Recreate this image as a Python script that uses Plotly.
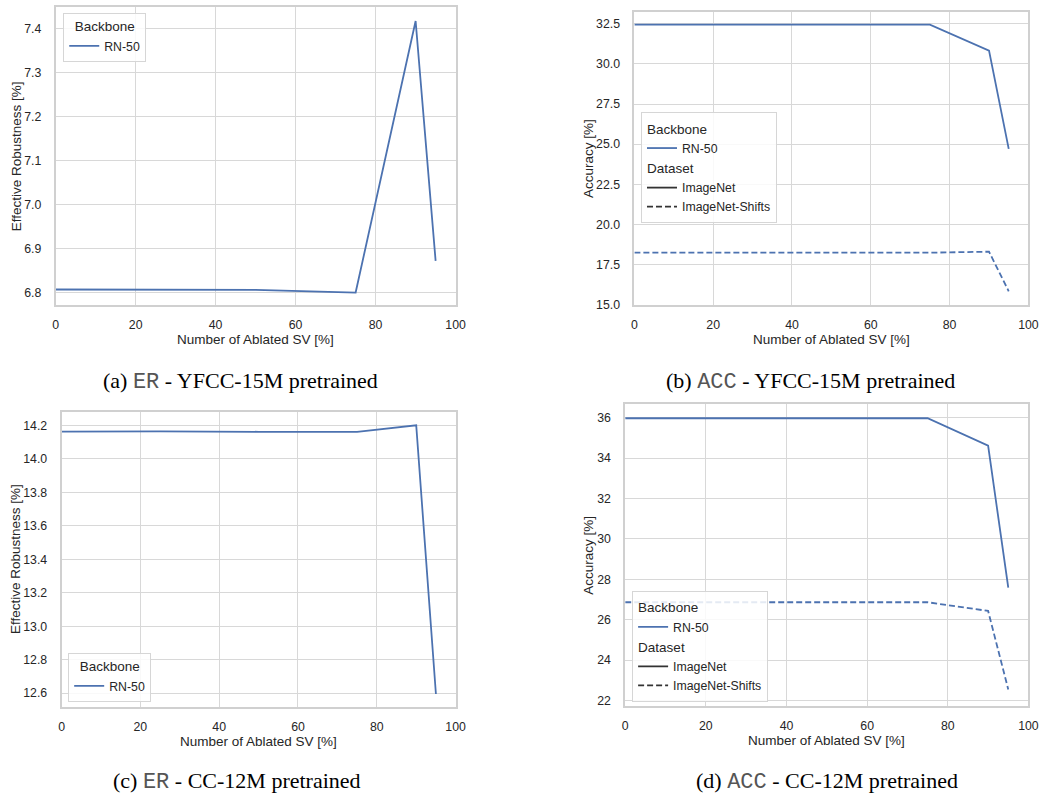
import plotly.graph_objects as go

# Ablation levels (percentage of singular values removed)
ablated_sv = [0, 25, 50, 75, 90, 95]

# YFCC-15M pretrained, RN-50 backbone
yfcc_er = [6.807, 6.807, 6.806, 6.800, 7.418, 6.872]
yfcc_acc_imagenet = [32.45, 32.45, 32.45, 32.45, 30.83, 24.71]
yfcc_acc_shifts = [18.24, 18.24, 18.24, 18.24, 18.30, 15.83]

# CC-12M pretrained, RN-50 backbone
cc_er = [14.163, 14.165, 14.162, 14.161, 14.201, 12.595]
cc_acc_imagenet = [35.97, 35.97, 35.97, 35.97, 34.61, 27.58]
cc_acc_shifts = [26.86, 26.86, 26.86, 26.86, 26.43, 22.54]

captions = [
    ("a", "ER", "YFCC-15M pretrained"),
    ("b", "ACC", "YFCC-15M pretrained"),
    ("c", "ER", "CC-12M pretrained"),
    ("d", "ACC", "CC-12M pretrained"),
]

W, H = 1049, 797
BLUE = "#4c72b0"
DARK = "#333333"
TEXT = "#262626"
GRID = "#d8d8d8"
SPINE = "#d0d0d0"
FONT = "Liberation Sans, Arial, sans-serif"


def px_x(v):
    return v / W


def px_y(v):
    return 1 - v / H


# panel boxes in pixels: left, right, top, bottom
boxes = {
    1: (53.3, 458.3, 7.0, 308.0),
    2: (639.3, 1038.3, 12.0, 308.0),
    3: (59.3, 458.3, 415.7, 713.3),
    4: (630.0, 1038.3, 407.3, 712.3),
}
yranges = {1: [6.771, 7.45], 2: [14.96, 33.24], 3: [12.517, 14.28], 4: [21.72, 36.69]}
yticks = {
    1: dict(tick0=6.8, dtick=0.1, tickformat=".1f"),
    2: dict(tick0=15.0, dtick=2.5, tickformat=".1f"),
    3: dict(tick0=12.6, dtick=0.2, tickformat=".1f"),
    4: dict(tick0=22, dtick=2, tickformat="d"),
}

fig = go.Figure()


def add_line(i, y, dash="solid"):
    fig.add_trace(go.Scatter(
        x=ablated_sv, y=y, mode="lines",
        line=dict(color=BLUE, width=1.8, dash=dash),
        xaxis=f"x{i}", yaxis=f"y{i}", showlegend=False,
    ))


add_line(1, yfcc_er)
add_line(2, yfcc_acc_imagenet)
add_line(2, yfcc_acc_shifts, "6px,3px")
add_line(3, cc_er)
add_line(4, cc_acc_imagenet)
add_line(4, cc_acc_shifts, "6px,3px")

TITLE_FONT = dict(size=13.5, color=TEXT, family=FONT)


def legend_entry(legend, name, color, dash="solid", group=None, group_title=None):
    kw = {}
    if group is not None:
        kw["legendgroup"] = group
        kw["legendgrouptitle"] = dict(text=group_title, font=TITLE_FONT)
    fig.add_trace(go.Scatter(
        x=[None], y=[None], mode="lines", name=name,
        line=dict(color=color, width=1.8, dash=dash),
        xaxis="x1", yaxis="y1", legend=legend, showlegend=True, **kw,
    ))


# simple backbone legends
legend_entry("legend", "RN-50", BLUE)
legend_entry("legend3", "RN-50", BLUE)
# backbone + dataset legends
for lg in ("legend2", "legend4"):
    legend_entry(lg, "RN-50", BLUE, group=f"bb_{lg}", group_title="Backbone")
    legend_entry(lg, "ImageNet", DARK, group=f"ds_{lg}", group_title="Dataset")
    legend_entry(lg, "ImageNet-Shifts", DARK, "6px,3px", group=f"ds_{lg}", group_title="Dataset")

layout = dict(
    width=W, height=H,
    margin=dict(l=0, r=0, t=0, b=0),
    paper_bgcolor="white", plot_bgcolor="white",
    font=dict(family=FONT, color=TEXT, size=12),
)

for i, (l, r, t, b) in boxes.items():
    layout[f"xaxis{i}"] = dict(
        domain=[px_x(l), px_x(r)], anchor=f"y{i}", range=[0, 100],
        tick0=0, dtick=20, showgrid=True, gridcolor=GRID, gridwidth=1.3,
        showline=True, linecolor=SPINE, linewidth=1.8, mirror=True,
        zeroline=False, ticks="", ticklabelstandoff=7,
        tickfont=dict(size=12.3, color=TEXT, family=FONT),
    )
    layout[f"yaxis{i}"] = dict(
        domain=[px_y(b), px_y(t)], anchor=f"x{i}", range=yranges[i],
        showgrid=True, gridcolor=GRID, gridwidth=1.3,
        showline=True, linecolor=SPINE, linewidth=1.8, mirror=True,
        zeroline=False, ticks="", ticklabelstandoff=10,
        tickfont=dict(size=12.3, color=TEXT, family=FONT), **yticks[i],
    )

leg_common = dict(
    bgcolor="rgba(255,255,255,0.85)", bordercolor="#d6d6d6", borderwidth=1,
    font=dict(size=12.3, color=TEXT, family=FONT), xref="paper", yref="paper",
    itemwidth=30, tracegroupgap=0,
)
layout["legend"] = dict(
    x=px_x(61), y=px_y(13), xanchor="left", yanchor="top",
    title=dict(text="Backbone", side="top center", font=TITLE_FONT),
    **leg_common,
)
layout["legend3"] = dict(
    x=px_x(66), y=px_y(708), xanchor="left", yanchor="bottom",
    title=dict(text="Backbone", side="top center", font=TITLE_FONT),
    **leg_common,
)
layout["legend2"] = dict(x=px_x(646), y=px_y(113), xanchor="left", yanchor="top", **leg_common)
layout["legend4"] = dict(x=px_x(637), y=px_y(708), xanchor="left", yanchor="bottom", **leg_common)

annotations = []
# axis titles
for i, (l, r, t, b) in boxes.items():
    ylabel = "Effective Robustness [%]" if i in (1, 3) else "Accuracy [%]"
    annotations.append(dict(
        text="Number of Ablated SV [%]", x=px_x((l + r) / 2), y=px_y(b + 35),
        xref="paper", yref="paper", showarrow=False, xanchor="center", yanchor="middle",
        font=TITLE_FONT,
    ))
    ylab_x = {1: 13.3, 2: 592.7, 3: 12.7, 4: 593.3}[i]
    annotations.append(dict(
        text=ylabel, x=px_x(ylab_x), y=px_y((t + b) / 2), textangle=-90,
        xref="paper", yref="paper", showarrow=False, xanchor="center", yanchor="middle",
        font=TITLE_FONT,
    ))

# sub-figure captions
cap_pos = [(240, 385), (817.5, 385), (237, 788), (834.5, 788)]
for (letter, metric, desc), (cx, cy) in zip(captions, cap_pos):
    txt = (f"({letter}) <span style='font-family:Liberation Mono, Courier New, monospace;"
           f"color:#555555'>{metric}</span> - {desc}")
    annotations.append(dict(
        text=txt, x=px_x(cx), y=px_y(cy), xref="paper", yref="paper",
        showarrow=False, xanchor="center", yanchor="middle",
        font=dict(size=22, color="black", family="Liberation Serif, Times New Roman, serif"),
    ))

layout["annotations"] = annotations
fig.update_layout(**layout)
fig.write_html("out.html")
